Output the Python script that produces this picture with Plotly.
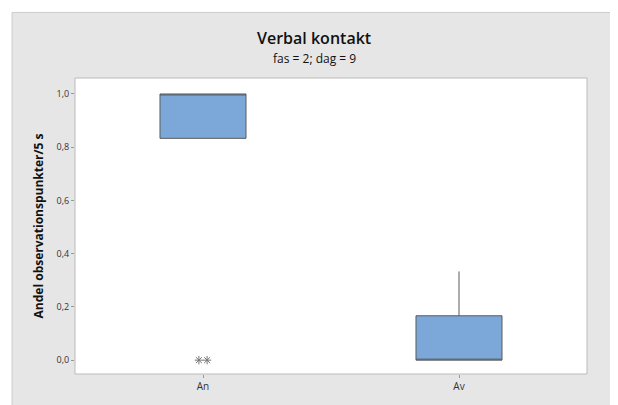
import plotly.graph_objects as go

categories = ["An", "Av"]
q1 = [0.8333, 0.0]
median = [1.0, 0.0]
q3 = [1.0, 0.1667]
lower_whisker = [0.8333, 0.0]
upper_whisker = [1.0, 0.3333]
outlier_cat = [0, 0]
outlier_vals = [0.0, 0.0]
y_ticks = [0.0, 0.2, 0.4, 0.6, 0.8, 1.0]

OFF = 8  # page body margin
W, H = 610, 397
# plot area in page coords: x 75..587, y 78..376
L = 75 - OFF
R = W - (587 - OFF)
T = 78 - OFF
B = H - (376 - OFF)
pw, ph = W - L - R, H - T - B

def px(x):
    return (x - OFF - L) / pw

def py(y):
    return (H - B - (y - OFF)) / ph

fig = go.Figure()
for i, c in enumerate(categories):
    fig.add_trace(go.Box(
        x=[i], q1=[q1[i]], median=[median[i]], q3=[q3[i]],
        lowerfence=[lower_whisker[i]], upperfence=[upper_whisker[i]],
        width=0.336, fillcolor="#7BA7D9",
        line=dict(color="#5a5a5a", width=1),
        whiskerwidth=0, boxpoints=False, showlegend=False, name=c,
        hoverinfo="skip",
    ))

offs = []
counts = {}
for c in outlier_cat:
    counts[c] = counts.get(c, 0) + 1
seen = {}
for c in outlier_cat:
    n = counts[c]
    k = seen.get(c, 0)
    seen[c] = k + 1
    offs.append(c + (k - (n - 1) / 2) * 0.032)
fig.add_trace(go.Scatter(
    x=offs, y=outlier_vals, mode="markers",
    marker=dict(symbol="asterisk-open", size=7, color="#777",
                line=dict(color="#777", width=1)),
    showlegend=False, hoverinfo="skip",
))

fig.add_shape(type="rect", xref="paper", yref="paper",
              x0=px(12), x1=px(615), y0=py(410), y1=py(12),
              fillcolor="#E6E6E6", line=dict(color="#CCCCCC", width=1), layer="below")
fig.add_shape(type="rect", xref="paper", yref="paper",
              x0=0, x1=1, y0=0, y1=1,
              fillcolor="white", line=dict(color="#BBBBBB", width=1), layer="below")

fig.add_annotation(text="Verbal kontakt", xref="paper", yref="paper",
                   x=px(314), y=py(38), xanchor="center", yanchor="middle",
                   showarrow=False, font=dict(size=16, color="#111", family="Open Sans", weight=600))
fig.add_annotation(text="fas = 2; dag = 9", xref="paper", yref="paper",
                   x=px(314), y=py(58), xanchor="center", yanchor="middle",
                   showarrow=False, font=dict(size=12, color="#111", family="Open Sans"))

fig.update_layout(
    width=W, height=H,
    margin=dict(l=L, r=R, t=T, b=B),
    paper_bgcolor="white", plot_bgcolor="rgba(0,0,0,0)",
    separators=", ",
    font=dict(family="Open Sans", color="#222"),
    xaxis=dict(range=[-0.5, 1.5], tickvals=[0, 1], ticktext=categories,
               showgrid=False, zeroline=False, showline=False,
               ticks="outside", ticklen=3, tickcolor="#999",
               tickfont=dict(size=10, color="#333")),
    yaxis=dict(range=[-0.052, 1.06], tickvals=y_ticks, tickformat=".1f",
               showgrid=False, zeroline=False, showline=False,
               ticks="outside", ticklen=3, tickcolor="#999",
               tickfont=dict(size=9, color="#333"),
               title=dict(text="<b>Andel observationspunkter/5 s</b>",
                          font=dict(size=12, color="#111"), standoff=10)),
)

fig.write_html("out.html")
